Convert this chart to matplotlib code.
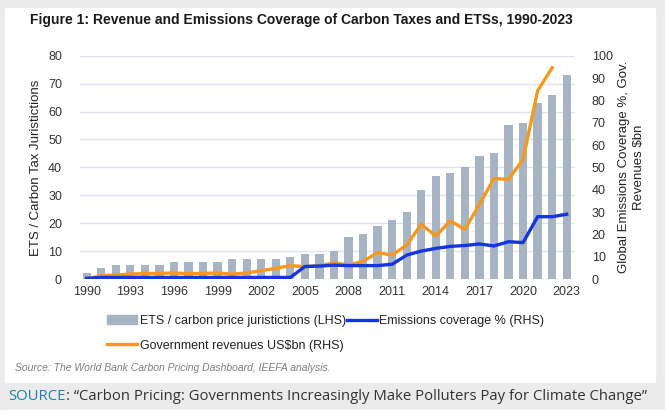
import matplotlib
matplotlib.use("Agg")
import matplotlib.pyplot as plt
from matplotlib.patches import Rectangle
from matplotlib.lines import Line2D
import numpy as np

years = list(range(1990, 2024))
jurisdictions = [2, 4, 5, 5, 5, 5, 6, 6, 6, 6, 7, 7, 7, 7, 8, 9, 9, 10, 15, 16,
                 19, 21, 24, 32, 37, 38, 40, 44, 45, 55, 56, 63, 66, 73]
coverage = [0.3, 0.7, 0.7, 0.7, 0.7, 0.7, 0.7, 0.7, 0.7, 0.7, 0.7, 0.7, 0.7, 0.7, 0.7,
            5.6, 5.8, 6.2, 6.0, 6.0, 6.0, 6.6, 10.7, 12.5, 13.7, 14.6, 15.0, 15.7,
            14.8, 16.7, 16.3, 27.9, 27.9, 29.0]
revenue_years = list(range(1990, 2023))
revenues = [0.0, 1.5, 1.8, 2.2, 2.5, 2.5, 2.7, 2.4, 2.5, 2.7, 2.2, 2.7, 3.7, 4.8, 6.0,
            5.5, 6.0, 7.2, 6.3, 7.9, 11.8, 10.7, 15.2, 24.5, 19.3, 26.0, 22.2, 33.4,
            45.0, 44.6, 53.6, 84.3, 94.6]
xtick_years = [1990, 1993, 1996, 1999, 2002, 2005, 2008, 2011, 2014, 2017, 2020, 2023]

W, H = 665, 417
fig = plt.figure(figsize=(W / 100, H / 100), dpi=100)
fig.patch.set_facecolor("white")
plt.rcParams["font.family"] = ["Liberation Sans", "DejaVu Sans"]

# Background frames
bg = "#ebebeb"
fig.add_artist(Rectangle((0, 0), 1, 1, transform=fig.transFigure, color=bg, zorder=-10))
fig.add_artist(Rectangle((5 / W, 1 - 382 / H), (655 - 5) / W, (382 - 8) / H,
                         transform=fig.transFigure, color="white", zorder=-9))
fig.add_artist(Rectangle((0, 0), 1, (H - 410) / H, transform=fig.transFigure,
                         color="white", zorder=-9))

ax = fig.add_axes([80 / W, 1 - 279 / H, (575 - 80) / W, (279 - 55.7) / H])
ax.set_facecolor("none")
ax.bar(years, jurisdictions, width=0.57, color="#a7b4c3", zorder=2)
ax.set_xlim(1989.54, 2023.57)
ax.set_ylim(0, 80)
ax.set_yticks(range(0, 81, 10))
ax.set_xticks(xtick_years)
ax.grid(axis="y", color="#dfe5ee", linewidth=1.0, zorder=0)
ax.set_axisbelow(True)
for s in ax.spines.values():
    s.set_visible(False)
ax.tick_params(axis="both", length=0, labelsize=9, colors="#333333")
ax.tick_params(axis="y", pad=13)
ax.tick_params(axis="x", pad=5)
ax.set_ylabel("ETS / Carbon Tax Juristictions", fontsize=9.5, color="#222222", labelpad=4)

ax2 = ax.twinx()
ax2.set_ylim(0, 100)
ax2.set_yticks(range(0, 101, 10))
for s in ax2.spines.values():
    s.set_visible(False)
ax2.tick_params(axis="y", length=0, labelsize=9, colors="#333333", pad=12)
ax2.plot(years, coverage, color="#1435e0", linewidth=2.4, zorder=4)
ax2.plot(revenue_years, revenues, color="#f7981d", linewidth=2.4, zorder=3)
ax2.set_ylabel("Global Emissions Coverage %, Gov.\nRevenues $bn", fontsize=9.5,
               color="#222222", labelpad=4, linespacing=1.35)

fig.text(30 / W, 1 - 20 / H,
         "Figure 1: Revenue and Emissions Coverage of Carbon Taxes and ETSs, 1990-2023",
         fontsize=10.0, fontweight="bold", color="#1a1a1a", va="center", ha="left")

handles = [Rectangle((0, 0), 1, 1, color="#a7b4c3"),
           Line2D([], [], color="#f7981d", linewidth=2.4),
           Line2D([], [], color="#1435e0", linewidth=2.4)]
labels = ["ETS / carbon price juristictions (LHS)",
          "Government revenues US$bn (RHS)",
          "Emissions coverage % (RHS)"]
fig.legend(handles, labels, ncol=2, loc="upper left",
           bbox_to_anchor=(107 / W, 1 - 315 / H), frameon=False, fontsize=9,
           handlelength=2.4, handletextpad=0.2, columnspacing=0.1,
           labelspacing=1.0, borderaxespad=0, borderpad=0,
           labelcolor="#222222")

fig.text(15 / W, 1 - 368 / H,
         "Source: The World Bank Carbon Pricing Dashboard, IEEFA analysis.",
         fontsize=7.5, style="italic", color="#7f7f7f", va="center", ha="left")

t1 = fig.text(8 / W, 1 - 396 / H, "SOURCE", fontsize=10.75, color="#1d7fae",
              family=["Open Sans", "DejaVu Sans"], va="center", ha="left")
fig.canvas.draw()
bb = t1.get_window_extent()
fig.text(bb.x1 / W, 1 - 396 / H,
         ": \u201cCarbon Pricing: Governments Increasingly Make Polluters Pay for Climate Change\u201d",
         fontsize=10.75, color="#333333", family=["Open Sans", "DejaVu Sans"],
         va="center", ha="left")

fig.savefig("out.png", dpi=100)
